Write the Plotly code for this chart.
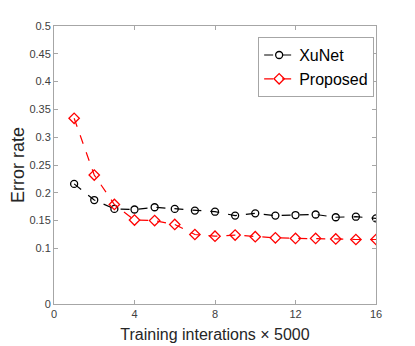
import plotly.graph_objects as go

iterations = list(range(1, 17))
xunet = [0.216, 0.187, 0.171, 0.170, 0.174, 0.171, 0.168, 0.166,
         0.159, 0.163, 0.159, 0.160, 0.161, 0.156, 0.157, 0.154]
proposed = [0.334, 0.232, 0.179, 0.151, 0.150, 0.143, 0.125, 0.122,
            0.124, 0.121, 0.119, 0.118, 0.118, 0.117, 0.116, 0.116]

y_ticks = [0, 0.1, 0.15, 0.2, 0.25, 0.3, 0.35, 0.4, 0.45, 0.5]
x_ticks = [0, 4, 8, 12, 16]

AXIS_COLOR = "#a6a6a6"
FONT = "Liberation Sans, Arial, sans-serif"

fig = go.Figure()
fig.add_trace(go.Scatter(
    x=iterations, y=xunet, name="XuNet", mode="lines+markers",
    line=dict(color="black", width=1.2, dash="dash"),
    marker=dict(symbol="circle-open", size=7, color="black", line=dict(width=1.3)),
))
fig.add_trace(go.Scatter(
    x=iterations, y=proposed, name="Proposed", mode="lines+markers",
    line=dict(color="red", width=1.2, dash="dash"),
    marker=dict(symbol="diamond-open", size=8, color="red", line=dict(width=1.3)),
))

axis_common = dict(
    showline=True, linecolor=AXIS_COLOR, linewidth=1, mirror="ticks",
    ticks="inside", ticklen=4, tickcolor=AXIS_COLOR,
    showgrid=False, zeroline=False, automargin=False,
    tickfont=dict(size=11, color="#404040", family=FONT),
)

# page body adds an 8px offset, so the figure is 8px smaller than the window
fig.update_layout(
    width=407, height=338,
    paper_bgcolor="white", plot_bgcolor="white",
    margin=dict(l=46, r=39, t=18, b=42),
    font=dict(family=FONT, color="#262626"),
    xaxis=dict(
        range=[0, 16], tickvals=x_ticks,
        title=dict(text="Training interations × 5000", font=dict(size=16), standoff=9),
        **axis_common,
    ),
    yaxis=dict(
        range=[0, 0.5], tickvals=y_ticks,
        ticktext=[str(v) for v in y_ticks],
        title=dict(text="Error rate", font=dict(size=18), standoff=6),
        **axis_common,
    ),
    legend=dict(
        x=0.634, y=0.96, xanchor="left", yanchor="top",
        bgcolor="white", bordercolor=AXIS_COLOR, borderwidth=1,
        font=dict(size=16, color="black"),
        tracegroupgap=0, itemwidth=30,
    ),
    showlegend=True,
)

fig.write_html("out.html")
